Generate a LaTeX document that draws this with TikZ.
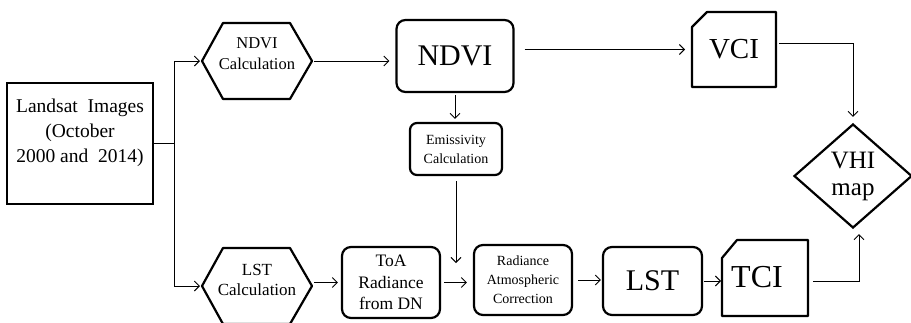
\documentclass[tikz,border=0pt]{standalone}
\usepackage{fontspec}
\setmainfont{Liberation Serif}
\usetikzlibrary{arrows.meta,shapes.geometric,calc}
\begin{document}
\begin{tikzpicture}[x=1pt,y=-1pt,
  thickline/.style={line width=2.2pt, line join=round},
  conn/.style={line width=0.9pt, -{Straight Barb[length=5pt,width=10pt,line width=0.9pt]}},
  rbox/.style={draw, line width=2.2pt, rounded corners=9pt, inner sep=0pt, align=center},
  blank/.style={inner sep=0pt, outer sep=0pt, align=center},
  txt/.style={inner sep=0pt, align=center},
]
\useasboundingbox (0,0) rectangle (911,322);

% Landsat box
\node[draw, line width=2.2pt, minimum width=146pt, minimum height=121pt, inner sep=0pt] (land) at (80,143.5) {};
\node[txt, font=\fontsize{19.5}{25}\selectfont] (landtxt) at (80,133) {Landsat\ \ Images\\(October\\2000 and\ \ 2014)};

% NDVI calculation hexagon
\node[blank, minimum width=110pt, minimum height=76pt] (ndvicalc) at (257,61) {};
\draw[thickline] (ndvicalc.west) -- ++(21,-38) -- ++(67,0) -- (ndvicalc.east) -- ++(-22,38) -- ++(-67,0) -- cycle;
\node[txt, font=\fontsize{16.5}{21}\selectfont] (ndvicalctxt) at (257,54) {NDVI\\Calculation};

% LST calculation hexagon
\node[blank, minimum width=110pt, minimum height=76pt] (lstcalc) at (257,286) {};
\draw[thickline] (lstcalc.west) -- ++(21,-38) -- ++(67,0) -- (lstcalc.east) -- ++(-22,38) -- ++(-67,0) -- cycle;
\node[txt, font=\fontsize{17}{20}\selectfont] (lstcalctxt) at (257,280) {LST\\Calculation};

% rounded boxes
\node[rbox, minimum width=117pt, minimum height=72pt, font=\fontsize{30}{30}\selectfont] (ndvi) at (455,56) {NDVI};
\node[rbox, minimum width=92pt, minimum height=52pt, rounded corners=7pt, font=\fontsize{14}{19}\selectfont] (emis) at (456,149) {Emissivity\\Calculation};
\node[rbox, minimum width=98pt, minimum height=71pt, font=\fontsize{17.5}{21.5}\selectfont] (toa) at (391,282.5) {ToA\\Radiance\\from DN};
\node[rbox, minimum width=98pt, minimum height=70pt, font=\fontsize{14}{19}\selectfont] (rad) at (523,280) {Radiance\\Atmospheric\\Correction};
\node[rbox, minimum width=99pt, minimum height=68pt, font=\fontsize{30}{30}\selectfont] (lst) at (652.5,281) {LST};

% VCI card
\node[blank, minimum width=84pt, minimum height=75pt, font=\fontsize{29}{29}\selectfont] (vci) at (734,49.5) {VCI};
\draw[thickline] (vci.south west) -- ($(vci.north west)+(0,15)$) -- ($(vci.north west)+(15,0)$) -- (vci.north east) -- (vci.south east) -- cycle;

% TCI card
\node[blank, minimum width=86pt, minimum height=76pt] (tci) at (765,278) {};
\draw[thickline] (tci.south west) -- ($(tci.north west)+(0,18)$) -- ($(tci.north west)+(15,0)$) -- (tci.north east) -- (tci.south east) -- cycle;
\node[txt, font=\fontsize{32}{32}\selectfont] (tcitxt) at (757,277) {TCI};

% VHI diamond
\node[diamond, draw, line width=2.2pt, minimum width=118pt, minimum height=104pt, inner sep=0pt, align=center, font=\fontsize{25}{27}\selectfont] (vhi) at (853,176) {VHI\\map};

% connectors
\draw[conn, shorten >=2pt] (land.east) -- ++(20,0) coordinate (br) |- (ndvicalc.west);
\draw[conn, shorten >=2pt] (br) |- (lstcalc.west);
\draw[conn, shorten <=2pt, shorten >=6pt] (ndvicalc.east) -- (ndvicalc.east -| ndvi.west);
\draw[conn, shorten <=10pt, shorten >=7pt] (ndvi.east |- vci.west) -- (vci.west);
\draw[conn, shorten <=2pt, shorten >=3pt] (ndvi.south) -- (ndvi.south |- emis.north);
\coordinate (join) at (456,263);
\draw[conn, shorten <=5pt] (emis.south) -- (join);
\draw[conn, shorten <=2pt, shorten >=3pt] (toa.west -| lstcalc.east) -- (toa.west);
\draw[conn, shorten <=3pt, shorten >=6pt] (toa.east) -- (toa.east -| rad.west);
\draw[conn, shorten <=5pt, shorten >=1pt] (rad.east) -- (rad.east -| lst.west);
\draw[conn, shorten <=1pt, shorten >=1pt] (lst.east) -- (lst.east -| tci.west);
\draw[conn, shorten <=3pt, shorten >=6pt] ([yshift=6.5pt]vci.east) -| (vhi.north);
\draw[conn, shorten <=5pt, shorten >=5pt] ([yshift=-3pt]tci.east) -| ([xshift=6pt]vhi.south);
\end{tikzpicture}
\end{document}
